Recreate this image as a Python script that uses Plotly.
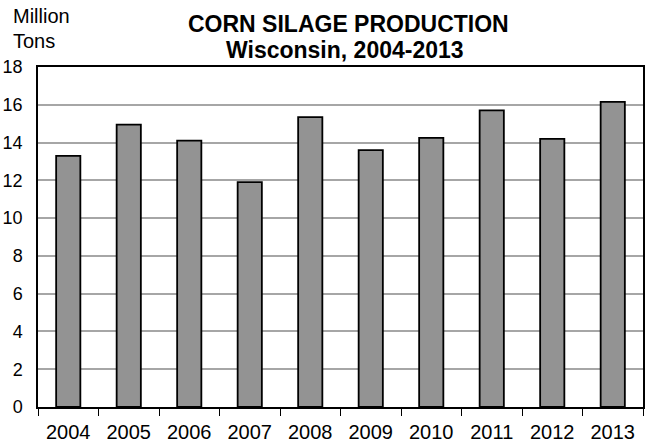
import plotly.graph_objects as go

years = ["2004", "2005", "2006", "2007", "2008", "2009", "2010", "2011", "2012", "2013"]
production = [13.3, 14.95, 14.1, 11.9, 15.35, 13.6, 14.25, 15.7, 14.2, 16.15]
y_ticks = [0, 2, 4, 6, 8, 10, 12, 14, 16, 18]

FONT = "Liberation Sans, Arial, sans-serif"

fig = go.Figure(go.Bar(
    x=years, y=production,
    marker=dict(color="#939393", line=dict(color="#000000", width=1.8)),
    width=0.4,
))

# plot area: x 38..643, y 67..407 (pixels)
def py(p):
    return (407 - p) / 340.0

def px(p):
    return (p - 38) / 605.0

fig.update_layout(
    width=653, height=443,
    margin=dict(l=38, r=10, t=67, b=36, autoexpand=False),
    paper_bgcolor="white", plot_bgcolor="white",
    font=dict(family=FONT, size=20, color="#000000"),
    showlegend=False,
    annotations=[
        dict(text="<b>CORN SILAGE PRODUCTION</b>", xref="paper", yref="paper",
             x=px(348), y=py(24), xanchor="center", yanchor="middle", showarrow=False,
             font=dict(family=FONT, size=23, color="#000000")),
        dict(text="<b>Wisconsin, 2004-2013</b>", xref="paper", yref="paper",
             x=px(345), y=py(50), xanchor="center", yanchor="middle", showarrow=False,
             font=dict(family=FONT, size=23, color="#000000")),
        dict(text="Million", xref="paper", yref="paper",
             x=px(11), y=py(16), xanchor="left", yanchor="middle",
             showarrow=False, font=dict(family=FONT, size=20, color="#000000")),
        dict(text="Tons", xref="paper", yref="paper",
             x=px(11), y=py(41), xanchor="left", yanchor="middle",
             showarrow=False, font=dict(family=FONT, size=20, color="#000000")),
    ],
)

fig.update_xaxes(
    showline=True, linecolor="#000000", linewidth=1.5, mirror=True,
    ticks="outside", tickson="boundaries", ticklen=7, tickcolor="#000000",
    tickwidth=1.2, tickfont=dict(size=20), showgrid=False, automargin=False,
    ticklabelstandoff=6,
)
fig.update_yaxes(
    range=[0, 18], tickvals=y_ticks,
    showline=True, linecolor="#000000", linewidth=1.5, mirror=True,
    showgrid=True, gridcolor="#a6a6a6", gridwidth=2,
    ticks="", tickfont=dict(size=18), ticklabelstandoff=10, automargin=False,
)

fig.write_html("out.html", config={"displayModeBar": False},
               post_script="document.body.style.margin='0px';")
